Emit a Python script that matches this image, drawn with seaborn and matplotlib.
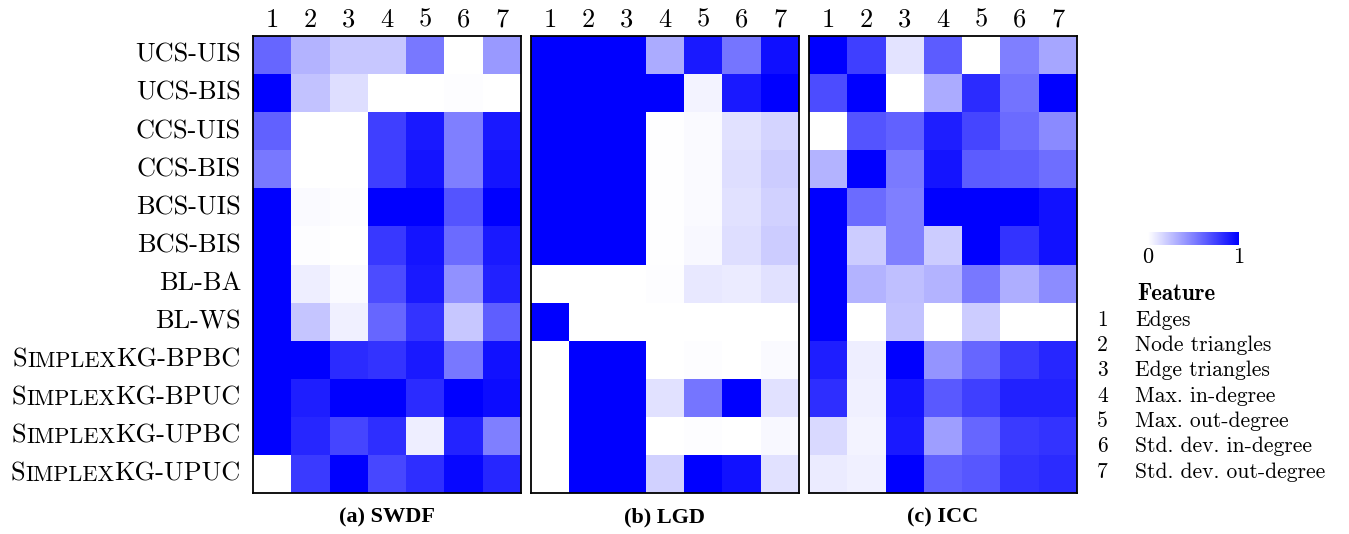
import numpy as np
import pandas as pd
import matplotlib
matplotlib.use("Agg")
import matplotlib.pyplot as plt
import seaborn as sns
from matplotlib.colors import LinearSegmentedColormap
from matplotlib.offsetbox import TextArea, HPacker, AnnotationBbox
from matplotlib.cm import ScalarMappable
from matplotlib.colors import Normalize

# ---------------- data ----------------
rows = ["UCS-UIS", "UCS-BIS", "CCS-UIS", "CCS-BIS", "BCS-UIS", "BCS-BIS",
        "BL-BA", "BL-WS", "SimplexKG-BPBC", "SimplexKG-BPUC",
        "SimplexKG-UPBC", "SimplexKG-UPUC"]
cols = ["1", "2", "3", "4", "5", "6", "7"]
features = ["Edges", "Node triangles", "Edge triangles", "Max. in-degree",
            "Max. out-degree", "Std. dev. in-degree", "Std. dev. out-degree"]
titles = ["(a) SWDF", "(b) LGD", "(c) ICC"]

swdf = [
    [0.60, 0.30, 0.22, 0.22, 0.53, 0.00, 0.40],
    [1.00, 0.24, 0.13, 0.00, 0.00, 0.01, 0.00],
    [0.62, 0.00, 0.00, 0.75, 0.90, 0.50, 0.90],
    [0.53, 0.00, 0.00, 0.75, 0.92, 0.50, 0.92],
    [1.00, 0.02, 0.01, 1.00, 1.00, 0.67, 1.00],
    [1.00, 0.01, 0.00, 0.78, 0.92, 0.58, 0.90],
    [1.00, 0.07, 0.02, 0.70, 0.90, 0.43, 0.87],
    [1.00, 0.23, 0.06, 0.60, 0.80, 0.22, 0.63],
    [1.00, 1.00, 0.83, 0.80, 0.90, 0.53, 0.93],
    [1.00, 0.88, 1.00, 1.00, 0.83, 1.00, 0.95],
    [1.00, 0.85, 0.73, 0.82, 0.07, 0.86, 0.50],
    [0.00, 0.77, 1.00, 0.72, 0.82, 0.97, 0.85],
]
lgd = [
    [1.00, 1.00, 1.00, 0.33, 0.90, 0.54, 0.94],
    [1.00, 1.00, 1.00, 1.00, 0.05, 0.90, 1.00],
    [1.00, 1.00, 1.00, 0.005, 0.02, 0.12, 0.17],
    [1.00, 1.00, 1.00, 0.005, 0.02, 0.13, 0.20],
    [1.00, 1.00, 1.00, 0.005, 0.02, 0.12, 0.18],
    [1.00, 1.00, 1.00, 0.005, 0.03, 0.13, 0.20],
    [0.00, 0.00, 0.00, 0.01, 0.09, 0.08, 0.12],
    [1.00, 0.00, 0.00, 0.00, 0.00, 0.00, 0.00],
    [0.00, 1.00, 1.00, 0.00, 0.01, 0.00, 0.02],
    [0.00, 1.00, 1.00, 0.12, 0.54, 1.00, 0.12],
    [0.00, 1.00, 1.00, 0.00, 0.01, 0.00, 0.03],
    [0.00, 1.00, 1.00, 0.18, 1.00, 0.93, 0.12],
]
icc = [
    [1.00, 0.75, 0.11, 0.64, 0.00, 0.50, 0.35],
    [0.70, 1.00, 0.00, 0.33, 0.83, 0.55, 1.00],
    [0.00, 0.67, 0.62, 0.88, 0.73, 0.58, 0.46],
    [0.30, 1.00, 0.52, 0.92, 0.64, 0.63, 0.57],
    [1.00, 0.58, 0.50, 1.00, 1.00, 1.00, 0.93],
    [1.00, 0.20, 0.50, 0.20, 1.00, 0.80, 0.93],
    [1.00, 0.30, 0.25, 0.30, 0.53, 0.32, 0.45],
    [1.00, 0.00, 0.24, 0.00, 0.20, 0.00, 0.00],
    [0.88, 0.07, 1.00, 0.42, 0.60, 0.77, 0.85],
    [0.82, 0.06, 0.92, 0.65, 0.75, 0.87, 0.87],
    [0.15, 0.05, 0.90, 0.38, 0.60, 0.77, 0.80],
    [0.08, 0.06, 1.00, 0.62, 0.66, 0.80, 0.83],
]

# ---------------- style ----------------
sns.set_style("white")
plt.rcParams["font.family"] = ["cmr10", "DejaVu Serif"]
plt.rcParams["axes.unicode_minus"] = False
plt.rcParams["axes.formatter.use_mathtext"] = True
plt.rcParams["text.color"] = "black"
plt.rcParams["xtick.color"] = "black"
plt.rcParams["ytick.color"] = "black"
plt.rcParams["axes.labelcolor"] = "black"

cmap = LinearSegmentedColormap.from_list("wb", ["#ffffff", "#0000ff"])

W, H = 1349, 534
fig = plt.figure(figsize=(W / 100, H / 100), dpi=100)

lefts = [253, 531, 809]
axw = 268
top, bottom = 36, 493
label_fs = 19
title_font = ["Liberation Serif", "DejaVu Serif"]

for i, (data, title) in enumerate(zip([swdf, lgd, icc], titles)):
    ax = fig.add_axes([lefts[i] / W, 1 - bottom / H, axw / W, (bottom - top) / H])
    df = pd.DataFrame(data, index=rows, columns=cols)
    sns.heatmap(df, ax=ax, cmap=cmap, vmin=0, vmax=1, cbar=False,
                xticklabels=cols, yticklabels=False)
    ax.xaxis.tick_top()
    ax.tick_params(axis="both", length=0, pad=3, labelcolor="black")
    for lab in ax.get_xticklabels():
        lab.set_fontsize(label_fs)
        lab.set_rotation(0)
    ax.set_xlabel("")
    ax.set_ylabel("")
    for s in ax.spines.values():
        s.set_visible(True)
        s.set_color("black")
        s.set_linewidth(1.3)
    ax.text(0.5, -(517 - bottom) / (bottom - top), title, transform=ax.transAxes,
            ha="center", va="center", fontsize=16, fontweight="bold",
            family=title_font, color="black")

    if i == 0:
        # row labels with small caps for "Simplex"
        for r, name in enumerate(rows):
            y = 1 - (r + 0.5) / len(rows)
            tp = dict(fontsize=label_fs, color="black")
            if name.startswith("SimplexKG"):
                parts = [TextArea("S", textprops=tp),
                         TextArea("IMPLEX", textprops=dict(fontsize=label_fs * 0.84, color="black")),
                         TextArea(name[len("Simplex"):], textprops=tp)]
                box = HPacker(children=parts, align="baseline", pad=0, sep=0)
            else:
                box = TextArea(name, textprops=tp)
            ab = AnnotationBbox(box, (-0.045, y), xycoords="axes fraction",
                                box_alignment=(1, 0.5), frameon=False, pad=0)
            ax.add_artist(ab)

# colorbar
cax = fig.add_axes([1148 / W, 1 - 245 / H, 91 / W, 13 / H])
sm = ScalarMappable(norm=Normalize(0, 1), cmap=cmap)
cb = fig.colorbar(sm, cax=cax, orientation="horizontal", ticks=[0, 1])
cb.outline.set_visible(False)
cb.ax.tick_params(length=0, labelsize=16, pad=2, labelcolor="black")
cb.ax.set_xticklabels(["0", "1"])

# feature legend
leg_fs = 15.5
fig.text(1137 / W, 1 - 294 / H, "Feature", fontsize=16.5,
         family=["cmb10", "DejaVu Serif"], va="center", ha="left", color="black")
for k, f in enumerate(features):
    y = 1 - (320 + k * 25.3) / H
    fig.text(1097 / W, y, str(k + 1), fontsize=leg_fs, va="center", ha="left", color="black")
    fig.text(1135 / W, y, f, fontsize=leg_fs, va="center", ha="left", color="black")

fig.savefig("out.png", dpi=100)
